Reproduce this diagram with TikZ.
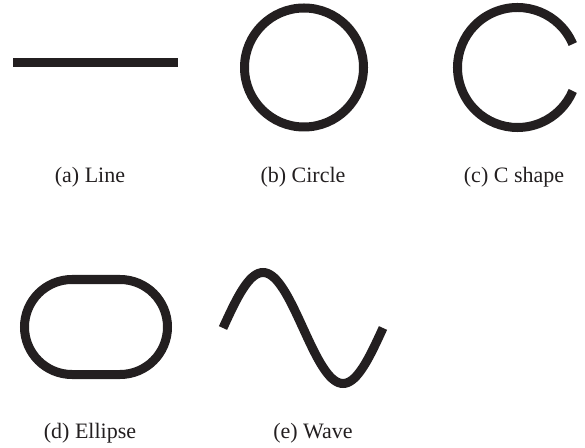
\documentclass[tikz,border=0pt]{standalone}
\usepackage{fontspec}
\setmainfont{Liberation Serif}
\definecolor{ink}{HTML}{231F20}

\begin{document}
\begin{tikzpicture}[
x=1pt, y=1pt,
shape line/.style={draw=ink, line width=9pt},
caption/.style={anchor=base, text=ink, font=\fontsize{22}{26}\selectfont, inner sep=0pt}
]
\useasboundingbox (0,0) rectangle (585,447);

% top row
\draw[shape line] (13,384.5) -- (178,384.5);
\draw[shape line] (304,379.5) circle (59.5);
\draw[shape line] (517.5,379.5) ++(23:60) arc (23:337:60);

% bottom row
\draw[shape line] (72,167.5) -- (120,167.5) arc (90:-90:47.5)
    -- (72,72.5) arc (270:90:47.5) -- cycle;
\draw[shape line, domain=0:360, samples=73, smooth]
    plot ({223+\x/360*160}, {119+55.5*sin(\x)});

% captions
\node[caption] (capLine) at (90,264) {(a) Line};
\node[caption] (capCircle) at (303,264) {(b) Circle};
\node[caption] (capC) at (514,264) {(c) C shape};
\node[caption] (capEllipse) at (90,9) {(d) Ellipse};
\node[caption] (capWave) at (313,9) {(e) Wave};

\end{tikzpicture}
\end{document}
